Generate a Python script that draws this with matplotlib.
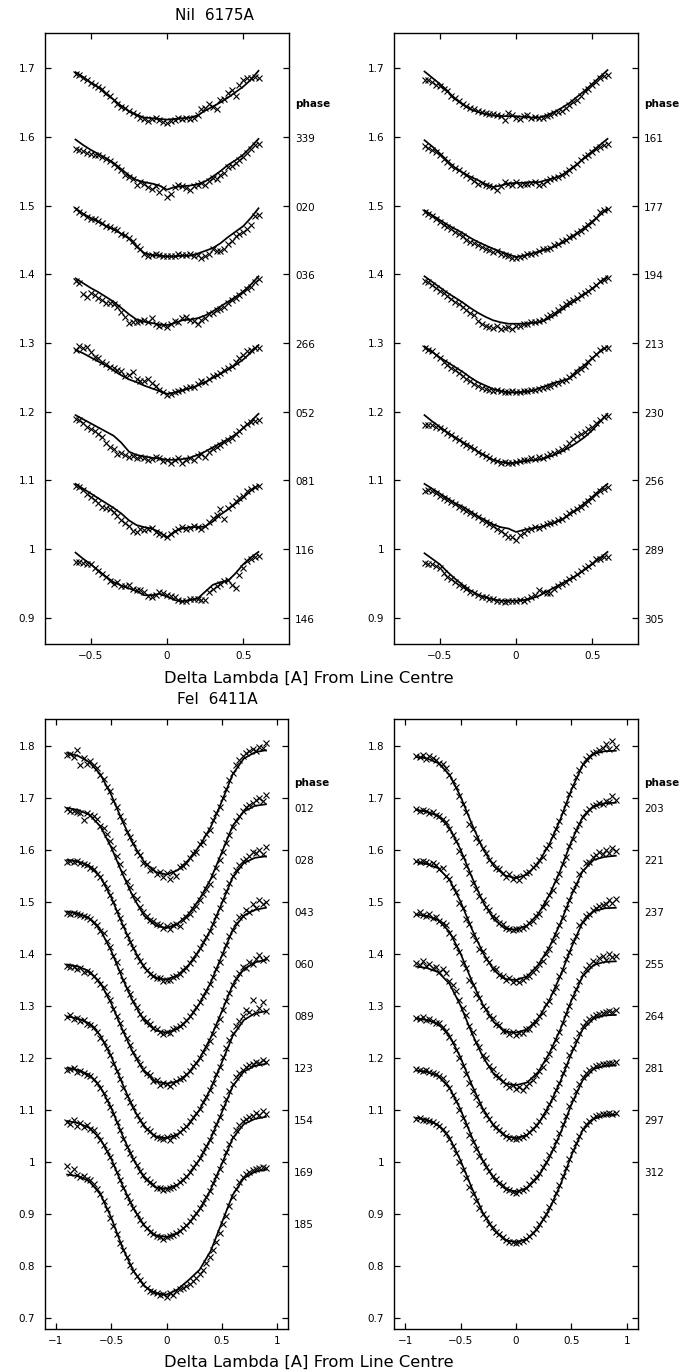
import numpy as np
import matplotlib
matplotlib.use('Agg')
import matplotlib.pyplot as plt
from matplotlib.transforms import blended_transform_factory, offset_copy

# ---------------- data (values in thousandths relative to each profile's base level) ----------------
NI_BASES = [1.7, 1.6, 1.5, 1.4, 1.3, 1.2, 1.1, 1.0]
NI_LEFT_PHASES = ['339', '020', '036', '266', '052', '081', '116', '146']
NI_RIGHT_PHASES = ['161', '177', '194', '213', '230', '256', '289', '305']

NI_LEFT_MODEL = [
    [-6,-13,-21,-28,-38,-46,-55,-63,-68,-72,-73,-74,-75,-74,-73,-72,-69,-62,-56,-50,-43,-35,-27,-17,-4],
    [-4,-12,-19,-25,-31,-38,-47,-56,-63,-66,-68,-71,-77,-73,-72,-71,-69,-65,-58,-50,-41,-34,-26,-15,-3],
    [-4,-12,-18,-24,-30,-35,-41,-48,-60,-69,-72,-73,-74,-74,-73,-73,-70,-66,-62,-55,-46,-38,-30,-18,-4],
    [-6,-13,-20,-26,-33,-40,-49,-58,-66,-69,-71,-73,-74,-71,-67,-66,-64,-60,-54,-47,-40,-33,-25,-15,-3],
    [-10,-15,-21,-27,-33,-40,-47,-53,-57,-62,-66,-70,-74,-72,-69,-66,-62,-57,-51,-45,-39,-32,-24,-14,-3],
    [-5,-11,-17,-23,-29,-35,-45,-58,-63,-65,-67,-68,-70,-70,-69,-67,-63,-58,-52,-46,-40,-33,-24,-14,-3],
    [-5,-12,-19,-26,-33,-40,-48,-58,-65,-68,-70,-75,-83,-74,-70,-68,-68,-67,-60,-50,-42,-34,-25,-15,-7],
    [-5,-14,-22,-31,-40,-48,-53,-57,-61,-67,-67,-65,-69,-74,-76,-74,-72,-62,-52,-48,-46,-35,-22,-12,-4],
]
NI_LEFT_OBS = [
    [-8,-10,-14,-18,-22,-24,-27,-30,-36,-41,-47,-52,-57,-58,-63,-66,-69,-72,-74,-77,-74,-72,-76,-78,-80,-77,-75,-73,-74,-73,-74,-72,-68,-60,-58,-53,-56,-60,-47,-45,-36,-32,-40,-25,-18,-14,-15,-13,-14],
    [-18,-19,-21,-24,-25,-26,-27,-29,-32,-35,-40,-44,-49,-55,-58,-62,-70,-66,-69,-73,-76,-72,-80,-75,-88,-83,-73,-70,-71,-75,-77,-72,-70,-67,-70,-64,-60,-62,-56,-52,-44,-42,-38,-34,-30,-24,-18,-12,-10],
    [-5,-9,-13,-17,-19,-19,-22,-26,-30,-31,-34,-36,-41,-43,-47,-52,-59,-64,-70,-73,-72,-70,-72,-74,-74,-73,-74,-71,-72,-72,-71,-74,-72,-77,-73,-70,-64,-66,-66,-63,-56,-52,-45,-42,-38,-34,-28,-15,-14],
    [-10,-13,-29,-33,-27,-30,-35,-38,-42,-42,-43,-48,-55,-62,-71,-70,-70,-68,-66,-70,-64,-72,-75,-74,-77,-72,-68,-70,-64,-62,-66,-68,-72,-66,-63,-58,-57,-52,-50,-48,-42,-37,-34,-30,-26,-22,-18,-12,-7],
    [-10,-5,-8,-6,-13,-20,-22,-27,-30,-35,-37,-39,-41,-48,-46,-42,-52,-55,-56,-52,-58,-62,-68,-72,-75,-74,-72,-70,-68,-66,-64,-64,-60,-56,-57,-52,-48,-46,-44,-40,-37,-34,-28,-22,-18,-12,-10,-8,-7],
    [-10,-12,-16,-22,-25,-28,-32,-37,-45,-52,-55,-62,-60,-63,-66,-65,-68,-66,-67,-70,-69,-66,-68,-72,-70,-75,-71,-68,-74,-70,-67,-70,-64,-62,-66,-58,-54,-52,-48,-44,-41,-38,-33,-28,-22,-18,-15,-14,-12],
    [-8,-10,-14,-20,-24,-28,-33,-38,-40,-42,-46,-52,-57,-62,-66,-74,-75,-70,-72,-70,-69,-75,-78,-80,-82,-78,-74,-70,-68,-70,-69,-67,-68,-70,-66,-60,-55,-50,-42,-56,-40,-36,-30,-26,-22,-16,-12,-9,-8],
    [-18,-18,-20,-21,-22,-28,-32,-36,-40,-46,-50,-48,-53,-54,-52,-58,-59,-60,-62,-68,-69,-66,-62,-64,-66,-68,-70,-74,-76,-75,-72,-73,-72,-74,-74,-62,-58,-54,-50,-47,-45,-52,-56,-38,-28,-17,-14,-12,-10],
]
NI_RIGHT_MODEL = [
    [-5,-14,-23,-33,-45,-53,-60,-64,-67,-69,-70,-70,-70,-71,-72,-72,-69,-64,-58,-51,-42,-33,-23,-13,-3],
    [-5,-14,-24,-35,-45,-52,-58,-63,-69,-73,-71,-68,-67,-67,-66,-66,-63,-60,-56,-48,-40,-30,-21,-12,-3],
    [-7,-14,-21,-28,-34,-40,-47,-53,-58,-63,-67,-71,-75,-73,-70,-67,-64,-60,-55,-48,-40,-32,-23,-14,-5],
    [-3,-11,-19,-27,-34,-41,-49,-56,-62,-67,-70,-72,-72,-72,-71,-70,-66,-60,-52,-44,-37,-29,-21,-12,-3],
    [-5,-13,-21,-28,-35,-42,-50,-57,-62,-67,-70,-72,-72,-71,-70,-66,-62,-58,-55,-52,-40,-32,-22,-13,-5],
    [-5,-14,-22,-30,-37,-44,-50,-58,-64,-70,-73,-75,-74,-72,-71,-70,-67,-63,-58,-52,-45,-37,-27,-15,-3],
    [-5,-12,-19,-26,-33,-38,-45,-52,-58,-64,-68,-70,-75,-72,-70,-68,-65,-62,-57,-50,-42,-33,-24,-14,-5],
    [-6,-14,-22,-33,-43,-52,-60,-66,-70,-73,-75,-75,-75,-74,-72,-68,-62,-56,-50,-44,-38,-30,-22,-13,-4],
]
NI_RIGHT_OBS = [
    [-17,-17,-20,-24,-26,-30,-34,-40,-44,-48,-52,-55,-58,-60,-62,-64,-66,-67,-67,-68,-70,-75,-65,-68,-72,-74,-70,-69,-72,-71,-73,-72,-70,-68,-66,-64,-62,-58,-54,-50,-46,-40,-34,-30,-25,-20,-14,-11,-10],
    [-14,-16,-19,-22,-27,-32,-36,-42,-46,-49,-53,-56,-60,-64,-68,-67,-70,-72,-73,-78,-72,-66,-68,-70,-66,-70,-68,-69,-67,-66,-70,-68,-65,-62,-60,-59,-56,-52,-48,-44,-39,-34,-30,-26,-22,-18,-15,-12,-10],
    [-10,-12,-15,-20,-24,-28,-31,-34,-38,-42,-45,-50,-53,-55,-58,-60,-63,-65,-67,-66,-70,-72,-74,-76,-77,-75,-73,-71,-70,-69,-66,-64,-63,-62,-58,-56,-52,-50,-46,-44,-40,-37,-32,-28,-24,-18,-10,-7,-5],
    [-10,-12,-16,-20,-25,-28,-32,-36,-40,-44,-48,-52,-56,-60,-68,-72,-75,-77,-78,-76,-80,-78,-77,-79,-76,-75,-73,-72,-70,-70,-68,-66,-62,-60,-56,-52,-48,-44,-40,-38,-34,-30,-28,-24,-20,-15,-10,-8,-6],
    [-8,-10,-12,-18,-22,-28,-32,-36,-40,-44,-48,-52,-56,-60,-62,-65,-67,-68,-70,-69,-70,-72,-71,-70,-72,-71,-70,-70,-69,-68,-67,-66,-64,-62,-60,-58,-56,-54,-50,-46,-42,-38,-33,-28,-22,-16,-10,-8,-7],
    [-20,-19,-20,-22,-24,-27,-31,-34,-38,-41,-45,-48,-51,-55,-58,-62,-65,-68,-70,-72,-74,-73,-75,-74,-73,-72,-70,-71,-68,-69,-66,-67,-64,-62,-60,-57,-55,-52,-45,-40,-36,-33,-30,-25,-22,-16,-12,-8,-6],
    [-15,-14,-16,-19,-22,-25,-28,-31,-34,-38,-42,-44,-47,-50,-53,-57,-60,-63,-66,-70,-73,-78,-82,-83,-86,-80,-76,-72,-70,-68,-69,-66,-64,-62,-60,-58,-56,-52,-48,-45,-42,-38,-34,-30,-26,-20,-16,-12,-10],
    [-20,-22,-22,-24,-28,-34,-40,-44,-48,-52,-55,-58,-62,-64,-67,-69,-70,-72,-73,-75,-76,-77,-76,-75,-76,-74,-75,-72,-70,-66,-60,-62,-64,-64,-58,-54,-50,-48,-44,-40,-36,-32,-28,-25,-20,-15,-14,-12,-11],
]

FE_LEFT_BASES = [1.8, 1.7, 1.6, 1.5, 1.4, 1.3, 1.2, 1.1, 1.0]
FE_RIGHT_BASES = [1.8, 1.7, 1.6, 1.5, 1.4, 1.3, 1.2, 1.1]
FE_LEFT_PHASES = ['012', '028', '043', '060', '089', '123', '154', '169', '185']
FE_RIGHT_PHASES = ['203', '221', '237', '255', '264', '281', '297', '312']

FE_LEFT_MODEL = [
    [-14,-20,-32,-55,-95,-145,-190,-225,-243,-248,-240,-220,-193,-157,-108,-55,-25,-13,-9],
    [-20,-24,-33,-55,-96,-146,-192,-228,-246,-251,-243,-224,-195,-157,-106,-54,-27,-16,-13],
    [-20,-23,-31,-52,-92,-143,-190,-228,-247,-250,-242,-222,-193,-154,-104,-53,-26,-16,-13],
    [-19,-23,-32,-54,-95,-147,-194,-230,-248,-252,-245,-226,-196,-156,-105,-54,-27,-16,-12],
    [-21,-25,-34,-56,-96,-146,-192,-228,-246,-250,-246,-230,-202,-162,-112,-60,-30,-17,-12],
    [-21,-25,-34,-57,-98,-150,-198,-234,-252,-255,-248,-230,-200,-160,-110,-58,-28,-15,-11],
    [-20,-24,-33,-56,-97,-149,-196,-232,-250,-252,-245,-226,-196,-156,-106,-55,-27,-16,-12],
    [-22,-26,-35,-56,-95,-145,-190,-224,-242,-245,-238,-220,-192,-154,-105,-55,-28,-18,-14],
    [-25,-28,-38,-62,-108,-165,-210,-240,-253,-256,-246,-228,-208,-172,-118,-64,-32,-20,-15],
]
FE_LEFT_OBS = [
    [-18,-16,-22,-8,-38,-24,-36,-30,-38,-44,-56,-64,-80,-88,-106,-118,-136,-146,-166,-175,-188,-204,-210,-226,-228,-240,-238,-248,-244,-252,-246,-256,-244,-250,-234,-232,-226,-216,-206,-204,-190,-186,-170,-162,-144,-130,-118,-100,-84,-66,-52,-38,-28,-20,-14,-10,-6,-10,-2,-4,5],
    [-22,-25,-26,-28,-30,-44,-30,-34,-36,-42,-54,-58,-70,-84,-98,-112,-128,-144,-160,-172,-188,-196,-210,-220,-228,-236,-238,-244,-246,-250,-248,-252,-246,-244,-248,-236,-230,-224,-214,-208,-198,-186,-176,-166,-150,-136,-120,-104,-88,-72,-56,-46,-36,-26,-18,-14,-10,-5,0,-6,5],
    [-24,-22,-24,-23,-26,-27,-30,-36,-38,-48,-52,-64,-74,-88,-100,-118,-132,-148,-164,-178,-190,-204,-214,-222,-232,-240,-244,-248,-248,-252,-250,-250,-246,-244,-240,-232,-228,-218,-210,-200,-190,-178,-168,-156,-144,-128,-112,-98,-80,-64,-50,-40,-30,-22,-18,-12,-4,-6,0,-8,5],
    [-22,-24,-22,-24,-26,-28,-30,-34,-40,-46,-56,-60,-76,-88,-104,-116,-134,-150,-166,-178,-192,-202,-216,-224,-230,-236,-244,-246,-250,-254,-250,-252,-246,-244,-240,-236,-228,-220,-212,-202,-194,-182,-172,-158,-146,-130,-116,-100,-84,-66,-54,-42,-30,-28,-16,-20,-4,-12,2,-4,0],
    [-24,-26,-26,-30,-28,-36,-34,-38,-44,-50,-58,-64,-78,-90,-106,-120,-134,-148,-162,-176,-190,-200,-212,-222,-230,-234,-246,-244,-252,-248,-250,-254,-248,-246,-242,-240,-232,-226,-216,-210,-200,-190,-180,-168,-154,-140,-126,-108,-92,-76,-60,-48,-38,-26,-28,-16,-20,-10,-2,-12,-8],
    [-22,-18,-26,-24,-30,-28,-36,-38,-42,-50,-62,-70,-82,-96,-112,-126,-142,-158,-174,-186,-196,-210,-220,-228,-238,-242,-248,-252,-254,-256,-252,-258,-250,-248,-244,-238,-232,-222,-214,-206,-198,-186,-176,-162,-148,-132,-118,-98,-82,-66,-52,-40,-30,-20,-8,-12,10,-14,-4,6,-10],
    [-24,-22,-20,-28,-26,-30,-34,-36,-42,-48,-58,-68,-82,-96,-108,-124,-140,-156,-172,-184,-196,-206,-218,-226,-234,-240,-244,-250,-250,-254,-252,-250,-248,-246,-240,-236,-228,-220,-210,-202,-194,-182,-170,-158,-144,-128,-114,-96,-80,-64,-50,-38,-30,-24,-18,-14,-12,-8,-10,-4,-8],
    [-24,-28,-20,-32,-26,-34,-30,-38,-40,-48,-58,-68,-80,-92,-106,-120,-136,-150,-166,-178,-190,-200,-212,-220,-228,-236,-240,-244,-246,-248,-246,-244,-242,-238,-234,-228,-222,-214,-206,-198,-190,-180,-168,-156,-142,-128,-114,-98,-82,-66,-52,-40,-30,-22,-18,-14,-12,-6,-10,-2,-8],
    [-8,-22,-14,-26,-30,-28,-34,-36,-44,-52,-62,-76,-92,-108,-124,-140,-156,-170,-184,-198,-210,-220,-228,-236,-244,-248,-250,-252,-256,-254,-260,-252,-256,-248,-246,-244,-240,-236,-230,-224,-216,-208,-196,-184,-170,-154,-138,-120,-104,-86,-68,-52,-40,-30,-24,-20,-16,-14,-12,-10,-12],
]
FE_RIGHT_MODEL = [
    [-22,-25,-34,-56,-98,-150,-198,-232,-250,-255,-248,-226,-190,-142,-85,-38,-16,-11,-10],
    [-24,-27,-36,-58,-100,-152,-200,-234,-252,-254,-246,-224,-188,-140,-84,-38,-17,-11,-10],
    [-24,-28,-36,-58,-100,-152,-198,-232,-249,-251,-244,-222,-188,-142,-88,-42,-20,-14,-12],
    [-25,-28,-36,-58,-100,-152,-198,-232,-250,-252,-246,-225,-190,-143,-88,-40,-19,-13,-12],
    [-25,-28,-36,-58,-100,-152,-198,-232,-250,-253,-248,-228,-192,-146,-90,-44,-22,-16,-15],
    [-25,-28,-36,-58,-100,-152,-198,-232,-251,-255,-249,-228,-192,-146,-92,-46,-25,-19,-18],
    [-25,-28,-36,-58,-100,-152,-198,-233,-252,-258,-251,-230,-193,-146,-90,-44,-22,-16,-15],
    [-16,-20,-30,-54,-98,-150,-198,-232,-251,-255,-249,-228,-192,-145,-88,-40,-18,-11,-10],
]
FE_RIGHT_OBS = [
    [-20,-22,-18,-26,-20,-24,-28,-34,-36,-44,-56,-68,-80,-98,-112,-128,-150,-160,-178,-186,-198,-206,-220,-226,-236,-238,-246,-252,-248,-256,-252,-258,-250,-246,-244,-234,-230,-220,-214,-198,-192,-174,-160,-146,-128,-112,-94,-78,-60,-48,-36,-26,-20,-14,-12,-8,-4,2,-6,8,-2],
    [-22,-26,-24,-26,-30,-28,-34,-36,-42,-48,-60,-72,-84,-102,-114,-132,-146,-164,-176,-190,-198,-210,-216,-228,-232,-242,-244,-250,-252,-254,-252,-252,-250,-248,-242,-238,-228,-224,-210,-202,-188,-178,-160,-148,-128,-114,-94,-80,-62,-50,-38,-28,-22,-16,-14,-10,-12,-6,-8,2,-4],
    [-22,-24,-22,-24,-28,-26,-30,-38,-36,-50,-56,-72,-82,-102,-112,-134,-144,-164,-174,-192,-196,-210,-216,-228,-230,-242,-244,-250,-248,-254,-250,-254,-250,-246,-244,-236,-230,-220,-214,-200,-192,-176,-164,-146,-132,-112,-98,-78,-66,-48,-40,-26,-24,-14,-10,-4,-8,0,-6,3,-2],
    [-24,-20,-26,-28,-24,-32,-30,-38,-42,-46,-60,-68,-86,-98,-118,-128,-150,-160,-178,-186,-200,-206,-220,-224,-236,-238,-248,-248,-254,-250,-256,-252,-252,-246,-246,-236,-232,-220,-214,-198,-192,-174,-164,-144,-132,-110,-98,-76,-66,-46,-40,-28,-24,-16,-12,-8,-6,-4,2,-2,4],
    [-18,-22,-14,-24,-20,-28,-26,-36,-30,-38,-52,-60,-72,-90,-104,-118,-140,-150,-170,-180,-196,-200,-216,-222,-234,-238,-246,-250,-256,-252,-260,-256,-262,-254,-248,-244,-234,-226,-218,-204,-194,-180,-166,-150,-134,-116,-100,-84,-68,-52,-40,-30,-22,-14,-18,-8,-4,-12,0,-6,-4],
    [-24,-26,-22,-28,-26,-30,-34,-34,-42,-48,-60,-70,-86,-100,-116,-132,-148,-164,-176,-190,-200,-210,-218,-228,-234,-240,-246,-250,-254,-254,-256,-254,-252,-248,-244,-238,-230,-222,-212,-202,-190,-178,-162,-148,-130,-114,-96,-82,-66,-52,-40,-32,-26,-22,-18,-16,-14,-12,-10,-12,-8],
    [-22,-24,-26,-24,-28,-30,-32,-36,-40,-48,-58,-72,-84,-100,-116,-130,-148,-162,-176,-190,-198,-210,-218,-228,-234,-242,-246,-252,-254,-258,-260,-256,-254,-250,-244,-236,-230,-222,-210,-200,-188,-176,-160,-146,-128,-112,-94,-80,-64,-50,-38,-30,-24,-20,-16,-14,-12,-12,-10,-10,-8],
    [-18,-16,-20,-20,-22,-24,-28,-32,-38,-46,-56,-70,-84,-100,-116,-132,-148,-162,-176,-190,-200,-208,-220,-226,-236,-240,-246,-250,-254,-254,-256,-254,-252,-248,-244,-238,-230,-220,-210,-200,-188,-176,-160,-146,-128,-112,-96,-78,-64,-50,-38,-28,-22,-16,-12,-10,-8,-8,-6,-8,-6],
]

NI_X_RANGE = (-0.6, 0.6)
FE_X_RANGE = (-0.9, 0.9)

NI_YTICKS = [0.9, 1.0, 1.1, 1.2, 1.3, 1.4, 1.5, 1.6, 1.7]
NI_YTICKLABELS = ['0.9', '1', '1.1', '1.2', '1.3', '1.4', '1.5', '1.6', '1.7']
FE_YTICKS = [0.7, 0.8, 0.9, 1.0, 1.1, 1.2, 1.3, 1.4, 1.5, 1.6, 1.7, 1.8]
FE_YTICKLABELS = ['0.7', '0.8', '0.9', '1', '1.1', '1.2', '1.3', '1.4', '1.5', '1.6', '1.7', '1.8']
NI_XTICKS = [-0.5, 0, 0.5]
NI_XTICKLABELS = ['\u22120.5', '0', '0.5']
FE_XTICKS = [-1, -0.5, 0, 0.5, 1]
FE_XTICKLABELS = ['\u22121', '\u22120.5', '0', '0.5', '1']

# ---------------- figure ----------------
plt.rcParams['font.family'] = ['DejaVu Sans']
W, H = 691, 1372
fig = plt.figure(figsize=(W / 100, H / 100), dpi=100)


def px_axes(l, r, t, b):
    return fig.add_axes([l / W, 1 - b / H, (r - l) / W, (b - t) / H])


def draw_panel(ax, xrange_, models, obs, bases, xlim, ylim, yticks, yticklabels,
               xticks, xticklabels, phases, phase_offset, phase_word_y):
    for m, o, b in zip(models, obs, bases):
        xm = np.linspace(xrange_[0], xrange_[1], len(m))
        xo = np.linspace(xrange_[0], xrange_[1], len(o))
        ax.plot(xm, b + np.asarray(m) / 1000.0, color='black', lw=1.25, zorder=3)
        ax.plot(xo, b + np.asarray(o) / 1000.0, ls='none', marker='x', ms=3.7,
                mew=0.8, color='black', zorder=2)
    ax.set_xlim(*xlim)
    ax.set_ylim(*ylim)
    ax.set_yticks(yticks)
    ax.set_yticklabels(yticklabels)
    ax.set_xticks(xticks)
    ax.set_xticklabels(xticklabels)
    ax.tick_params(direction='in', length=4, width=0.9, top=True, right=True,
                   labelsize=7.5, pad=7)
    ax.tick_params(axis='x', pad=5)
    for sp in ax.spines.values():
        sp.set_linewidth(1.0)
    trans = offset_copy(blended_transform_factory(ax.transAxes, ax.transData),
                        fig=fig, x=6, y=0, units='dots')
    for lab, b in zip(phases, bases):
        ax.text(1.0, b - 0.1 - phase_offset, lab, transform=trans, ha='left',
                va='center', fontsize=7.5)
    ax.text(1.0, phase_word_y, 'phase', transform=trans, ha='left', va='center',
            fontsize=7.5, fontweight='bold')


ax_tl = px_axes(45, 289, 33, 644)
ax_tr = px_axes(394, 638, 33, 644)
ax_bl = px_axes(45, 288, 719, 1329)
ax_br = px_axes(394, 638, 719, 1329)

draw_panel(ax_tl, NI_X_RANGE, NI_LEFT_MODEL, NI_LEFT_OBS, NI_BASES, (-0.8, 0.8),
           (0.862, 1.751), NI_YTICKS, NI_YTICKLABELS, NI_XTICKS, NI_XTICKLABELS,
           NI_LEFT_PHASES, 0.003, 1.648)
draw_panel(ax_tr, NI_X_RANGE, NI_RIGHT_MODEL, NI_RIGHT_OBS, NI_BASES, (-0.8, 0.8),
           (0.862, 1.751), NI_YTICKS, NI_YTICKLABELS, NI_XTICKS, NI_XTICKLABELS,
           NI_RIGHT_PHASES, 0.003, 1.648)
draw_panel(ax_bl, FE_X_RANGE, FE_LEFT_MODEL, FE_LEFT_OBS, FE_LEFT_BASES, (-1.1, 1.1),
           (0.678, 1.851), FE_YTICKS, FE_YTICKLABELS, FE_XTICKS, FE_XTICKLABELS,
           FE_LEFT_PHASES, 0.022, 1.728)
draw_panel(ax_br, FE_X_RANGE, FE_RIGHT_MODEL, FE_RIGHT_OBS, FE_RIGHT_BASES, (-1.1, 1.1),
           (0.678, 1.851), FE_YTICKS, FE_YTICKLABELS, FE_XTICKS, FE_XTICKLABELS,
           FE_RIGHT_PHASES, 0.022, 1.728)

fig.text(175 / W, 1 - 15 / H, 'NiI  6175A', ha='left', va='center', fontsize=11)
fig.text(164 / W, 1 - 678 / H, 'Delta Lambda [A] From Line Centre', ha='left',
         va='center', fontsize=11.8)
fig.text(177 / W, 1 - 700 / H, 'FeI  6411A', ha='left', va='center', fontsize=11)
fig.text(164 / W, 1 - 1362 / H, 'Delta Lambda [A] From Line Centre', ha='left',
         va='center', fontsize=11.8)

fig.savefig('out.png', dpi=100)
